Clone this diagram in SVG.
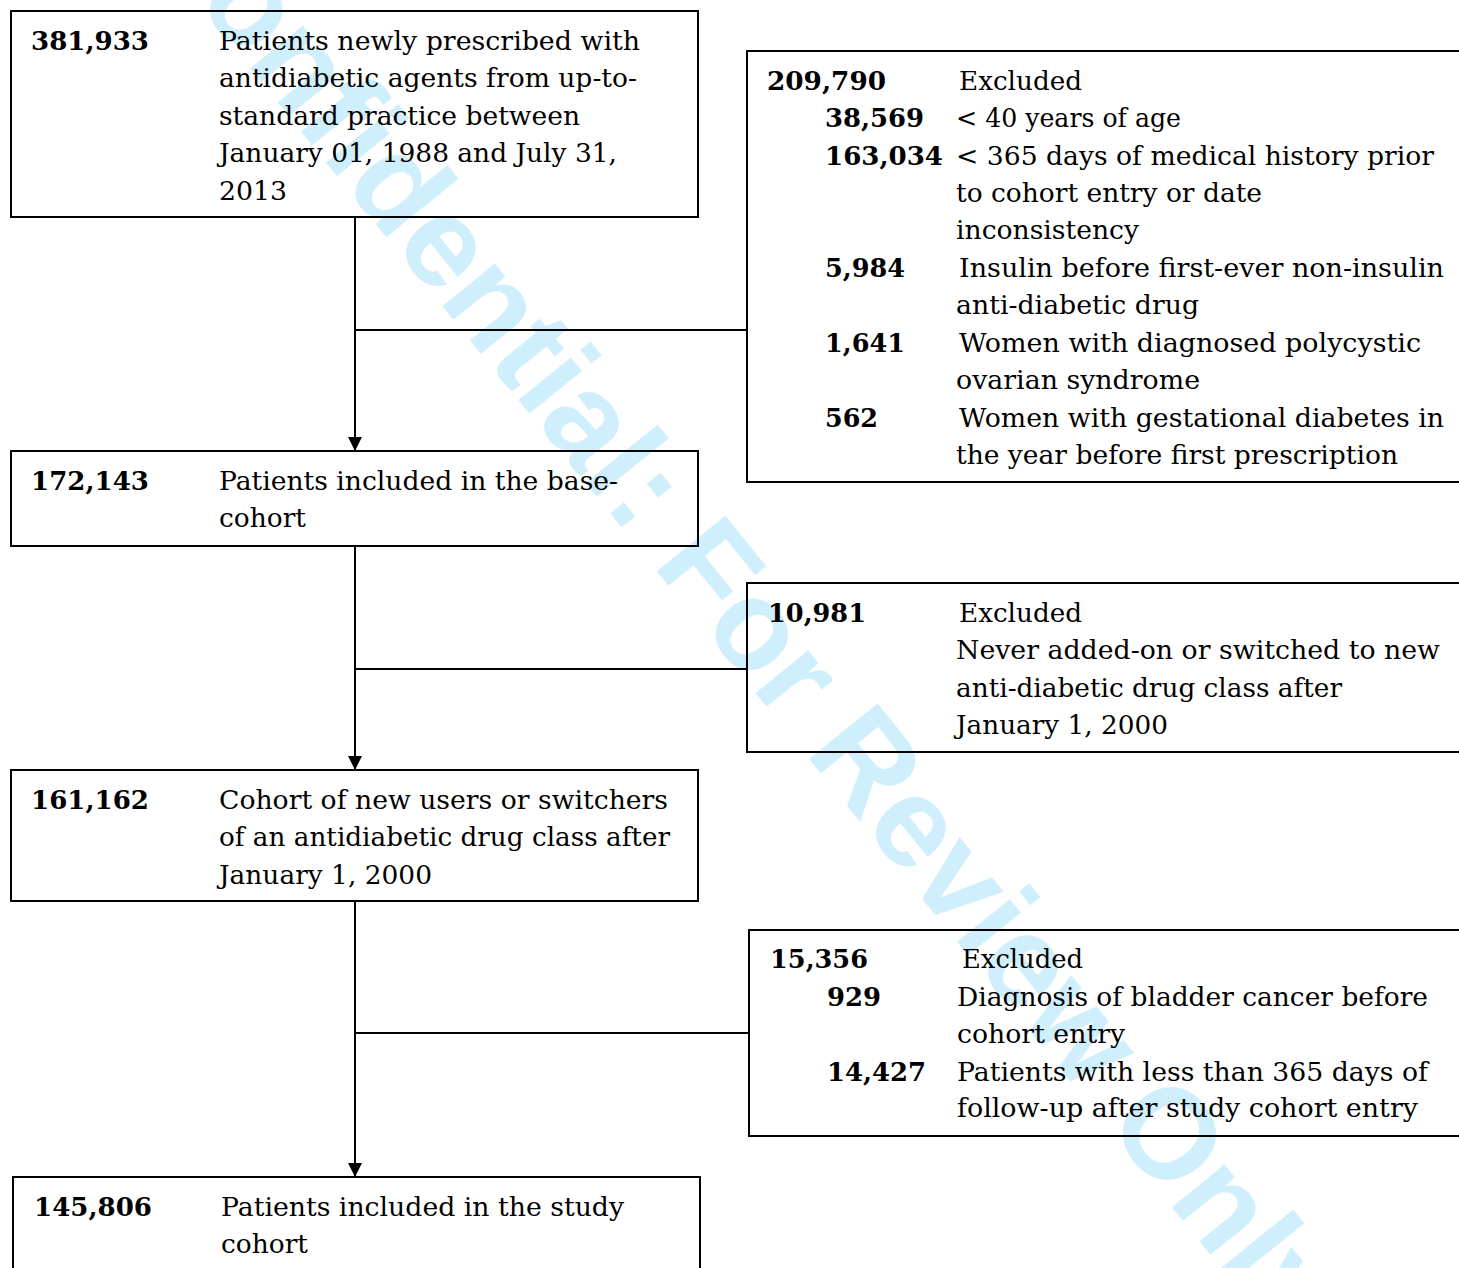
<svg xmlns="http://www.w3.org/2000/svg" width="1459" height="1268" viewBox="0 0 1459 1268">
<style>
.box{fill:none;stroke:#000;stroke-width:2}
.ln{fill:none;stroke:#000;stroke-width:2}
text{font-family:"DejaVu Serif","Liberation Serif",serif;font-size:26px;fill:#000}
.n{font-weight:bold}
.wm{font-family:"Liberation Sans",Arial,sans-serif;font-weight:bold;font-size:128px;fill:#d0effc}
</style>
<defs>
<marker id="arr" markerWidth="14" markerHeight="14" refX="14" refY="7" orient="auto" markerUnits="userSpaceOnUse">
<path d="M0,0 L14,7 L0,14 Z" fill="#000"/>
</marker>
</defs>
<rect width="1459" height="1268" fill="#fff"/>
<text class="wm" transform="translate(137,-71) rotate(51)" x="0" y="0">Confidential: For Review Only</text>

<g id="connectors">
<line class="ln" x1="355" y1="217" x2="355" y2="451" marker-end="url(#arr)"/>
<line class="ln" x1="355" y1="330" x2="747" y2="330"/>
<line class="ln" x1="355" y1="546" x2="355" y2="770" marker-end="url(#arr)"/>
<line class="ln" x1="355" y1="669" x2="747" y2="669"/>
<line class="ln" x1="355" y1="901" x2="355" y2="1177" marker-end="url(#arr)"/>
<line class="ln" x1="355" y1="1033" x2="749" y2="1033"/>
</g>

<g id="n1">
<rect class="box" x="11" y="11" width="687" height="206"/>
<text class="n" x="31" y="50" textLength="118" lengthAdjust="spacingAndGlyphs">381,933</text>
<text x="219" y="50" textLength="421" lengthAdjust="spacingAndGlyphs">Patients newly prescribed with</text>
<text x="219" y="87" textLength="418" lengthAdjust="spacingAndGlyphs">antidiabetic agents from up-to-</text>
<text x="219" y="125" textLength="361" lengthAdjust="spacingAndGlyphs">standard practice between</text>
<text x="219" y="162" textLength="398" lengthAdjust="spacingAndGlyphs">January 01, 1988 and July 31,</text>
<text x="219" y="200" textLength="68" lengthAdjust="spacingAndGlyphs">2013</text>
</g>

<g id="x1">
<rect class="box" x="747" y="51" width="730" height="431"/>
<text class="n" x="767" y="90" textLength="119" lengthAdjust="spacingAndGlyphs">209,790</text>
<text x="959" y="90" textLength="123" lengthAdjust="spacingAndGlyphs">Excluded</text>
<text class="n" x="825" y="127" textLength="99" lengthAdjust="spacingAndGlyphs">38,569</text>
<text x="956" y="127" textLength="225" lengthAdjust="spacingAndGlyphs">&lt; 40 years of age</text>
<text class="n" x="825" y="165" textLength="118" lengthAdjust="spacingAndGlyphs">163,034</text>
<text x="956" y="165" textLength="478" lengthAdjust="spacingAndGlyphs">&lt; 365 days of medical history prior</text>
<text x="956" y="202" textLength="306" lengthAdjust="spacingAndGlyphs">to cohort entry or date</text>
<text x="956" y="239" textLength="183" lengthAdjust="spacingAndGlyphs">inconsistency</text>
<text class="n" x="825" y="277" textLength="80" lengthAdjust="spacingAndGlyphs">5,984</text>
<text x="959" y="277" textLength="485" lengthAdjust="spacingAndGlyphs">Insulin before first-ever non-insulin</text>
<text x="956" y="314" textLength="243" lengthAdjust="spacingAndGlyphs">anti-diabetic drug</text>
<text class="n" x="825" y="352" textLength="80" lengthAdjust="spacingAndGlyphs">1,641</text>
<text x="959" y="352" textLength="462" lengthAdjust="spacingAndGlyphs">Women with diagnosed polycystic</text>
<text x="956" y="389" textLength="244" lengthAdjust="spacingAndGlyphs">ovarian syndrome</text>
<text class="n" x="825" y="427" textLength="53" lengthAdjust="spacingAndGlyphs">562</text>
<text x="959" y="427" textLength="485" lengthAdjust="spacingAndGlyphs">Women with gestational diabetes in</text>
<text x="956" y="464" textLength="442" lengthAdjust="spacingAndGlyphs">the year before first prescription</text>
</g>

<g id="n2">
<rect class="box" x="11" y="451" width="687" height="95"/>
<text class="n" x="31" y="490" textLength="118" lengthAdjust="spacingAndGlyphs">172,143</text>
<text x="219" y="490" textLength="399" lengthAdjust="spacingAndGlyphs">Patients included in the base-</text>
<text x="219" y="527" textLength="87" lengthAdjust="spacingAndGlyphs">cohort</text>
</g>

<g id="x2">
<rect class="box" x="747" y="583" width="730" height="169"/>
<text class="n" x="768" y="622" textLength="98" lengthAdjust="spacingAndGlyphs">10,981</text>
<text x="959" y="622" textLength="123" lengthAdjust="spacingAndGlyphs">Excluded</text>
<text x="956" y="659" textLength="484" lengthAdjust="spacingAndGlyphs">Never added-on or switched to new</text>
<text x="956" y="697" textLength="386" lengthAdjust="spacingAndGlyphs">anti-diabetic drug class after</text>
<text x="956" y="734" textLength="212" lengthAdjust="spacingAndGlyphs">January 1, 2000</text>
</g>

<g id="n3">
<rect class="box" x="11" y="770" width="687" height="131"/>
<text class="n" x="31" y="809" textLength="118" lengthAdjust="spacingAndGlyphs">161,162</text>
<text x="219" y="809" textLength="449" lengthAdjust="spacingAndGlyphs">Cohort of new users or switchers</text>
<text x="219" y="846" textLength="451" lengthAdjust="spacingAndGlyphs">of an antidiabetic drug class after</text>
<text x="219" y="884" textLength="213" lengthAdjust="spacingAndGlyphs">January 1, 2000</text>
</g>

<g id="x3">
<rect class="box" x="749" y="930" width="730" height="206"/>
<text class="n" x="770" y="968" textLength="98" lengthAdjust="spacingAndGlyphs">15,356</text>
<text x="962" y="968" textLength="121" lengthAdjust="spacingAndGlyphs">Excluded</text>
<text class="n" x="827" y="1006" textLength="54" lengthAdjust="spacingAndGlyphs">929</text>
<text x="957" y="1006" textLength="471" lengthAdjust="spacingAndGlyphs">Diagnosis of bladder cancer before</text>
<text x="957" y="1043" textLength="168" lengthAdjust="spacingAndGlyphs">cohort entry</text>
<text class="n" x="827" y="1081" textLength="99" lengthAdjust="spacingAndGlyphs">14,427</text>
<text x="957" y="1081" textLength="471" lengthAdjust="spacingAndGlyphs">Patients with less than 365 days of</text>
<text x="957" y="1117" textLength="461" lengthAdjust="spacingAndGlyphs">follow-up after study cohort entry</text>
</g>

<g id="n4">
<rect class="box" x="13" y="1177" width="687" height="110"/>
<text class="n" x="34" y="1216" textLength="118" lengthAdjust="spacingAndGlyphs">145,806</text>
<text x="221" y="1216" textLength="403" lengthAdjust="spacingAndGlyphs">Patients included in the study</text>
<text x="221" y="1253" textLength="87" lengthAdjust="spacingAndGlyphs">cohort</text>
</g>
</svg>
